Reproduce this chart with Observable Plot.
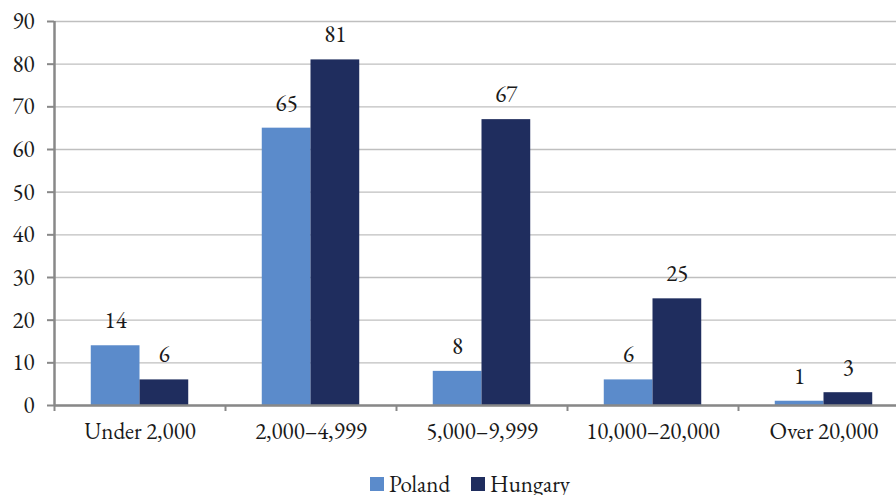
<!DOCTYPE html>
<html>
<head>
<meta charset="utf-8">
<script src="https://cdn.jsdelivr.net/npm/d3@7"></script>
<script src="https://cdn.jsdelivr.net/npm/@observablehq/plot@0.6"></script>
<style>
  html, body { margin: 0; padding: 0; overflow: hidden; background: #fff; }
  #wrap { position: relative; width: 909px; height: 495px; overflow: hidden; font-family: "EB Garamond", "Liberation Serif", serif; }
  #legend { position: absolute; top: 469px; left: 370px; display: flex; align-items: center; font-size: 23px; color: #1a1a1a; white-space: nowrap; }
  #legend .item { display: flex; align-items: center; margin-right: 21px; }
  #legend .sw { width: 14px; height: 14px; margin-right: 5px; display: inline-block; }
</style>
</head>
<body>
<div id="wrap"><div id="chart"></div><div id="legend"></div></div>
<script>
const categories = ["Under 2,000", "2,000–4,999", "5,000–9,999", "10,000–20,000", "Over 20,000"];
const series = ["Poland", "Hungary"];
const poland = [14, 65, 8, 6, 1];
const hungary = [6, 81, 67, 25, 3];
const yTicks = [0, 10, 20, 30, 40, 50, 60, 70, 80, 90];
const colors = ["#5B8BCB", "#1F2D5E"];

const values = [poland, hungary];
const data = categories.flatMap((c, ci) =>
  series.map((s, si) => ({category: c, ci, series: s, si, value: values[si][ci]}))
);

const BAR = 0.285; // bar width as fraction of a category band
const left = d => d.ci + 0.5 + (d.si - 1) * BAR;
const FONT = "'EB Garamond', 'Liberation Serif', serif";

const plot = Plot.plot({
  width: 909,
  height: 450,
  marginLeft: 54,
  marginRight: 0,
  marginTop: 21,
  marginBottom: 45,
  style: {fontFamily: FONT, fontSize: "23px", color: "#1a1a1a", maxWidth: "none", background: "#fff"},
  x: {domain: [0, categories.length], axis: null},
  y: {domain: [0, 90], axis: null},
  color: {domain: series, range: colors},
  marks: [
    Plot.gridY(yTicks, {stroke: "#bfbfbf", strokeOpacity: 1, strokeWidth: 1.3}),
    Plot.rectY(data, {x1: left, x2: d => left(d) + BAR, y1: 0, y2: "value", fill: "series"}),
    Plot.text(data, {x: d => left(d) + BAR / 2, y: "value", dy: -25, text: d => String(d.value), fontSize: 23, fill: "#1a1a1a"}),
    Plot.ruleY([0], {stroke: "#888", strokeWidth: 2.5}),
    Plot.ruleX([0], {stroke: "#888", strokeWidth: 2.5}),
    Plot.axisY(yTicks, {tickSize: 7, tickPadding: 13, stroke: "#888", strokeWidth: 2, fontSize: 23, fill: "#1a1a1a", label: null}),
    Plot.axisX(categories.map((c, i) => i), {tickSize: 6, stroke: "#888", strokeWidth: 2, tickFormat: () => "", label: null}),
    Plot.axisX(categories.map((c, i) => i + 0.5), {tickSize: 0, tickPadding: 17, tickFormat: v => categories[Math.floor(v)], fontSize: 23, fill: "#1a1a1a", label: null})
  ]
});
document.getElementById("chart").appendChild(plot);

const legend = document.getElementById("legend");
series.forEach((s, i) => {
  const item = document.createElement("span");
  item.className = "item";
  const sw = document.createElement("span");
  sw.className = "sw";
  sw.style.background = colors[i];
  item.appendChild(sw);
  item.appendChild(document.createTextNode(s));
  legend.appendChild(item);
});
</script>
</body>
</html>
